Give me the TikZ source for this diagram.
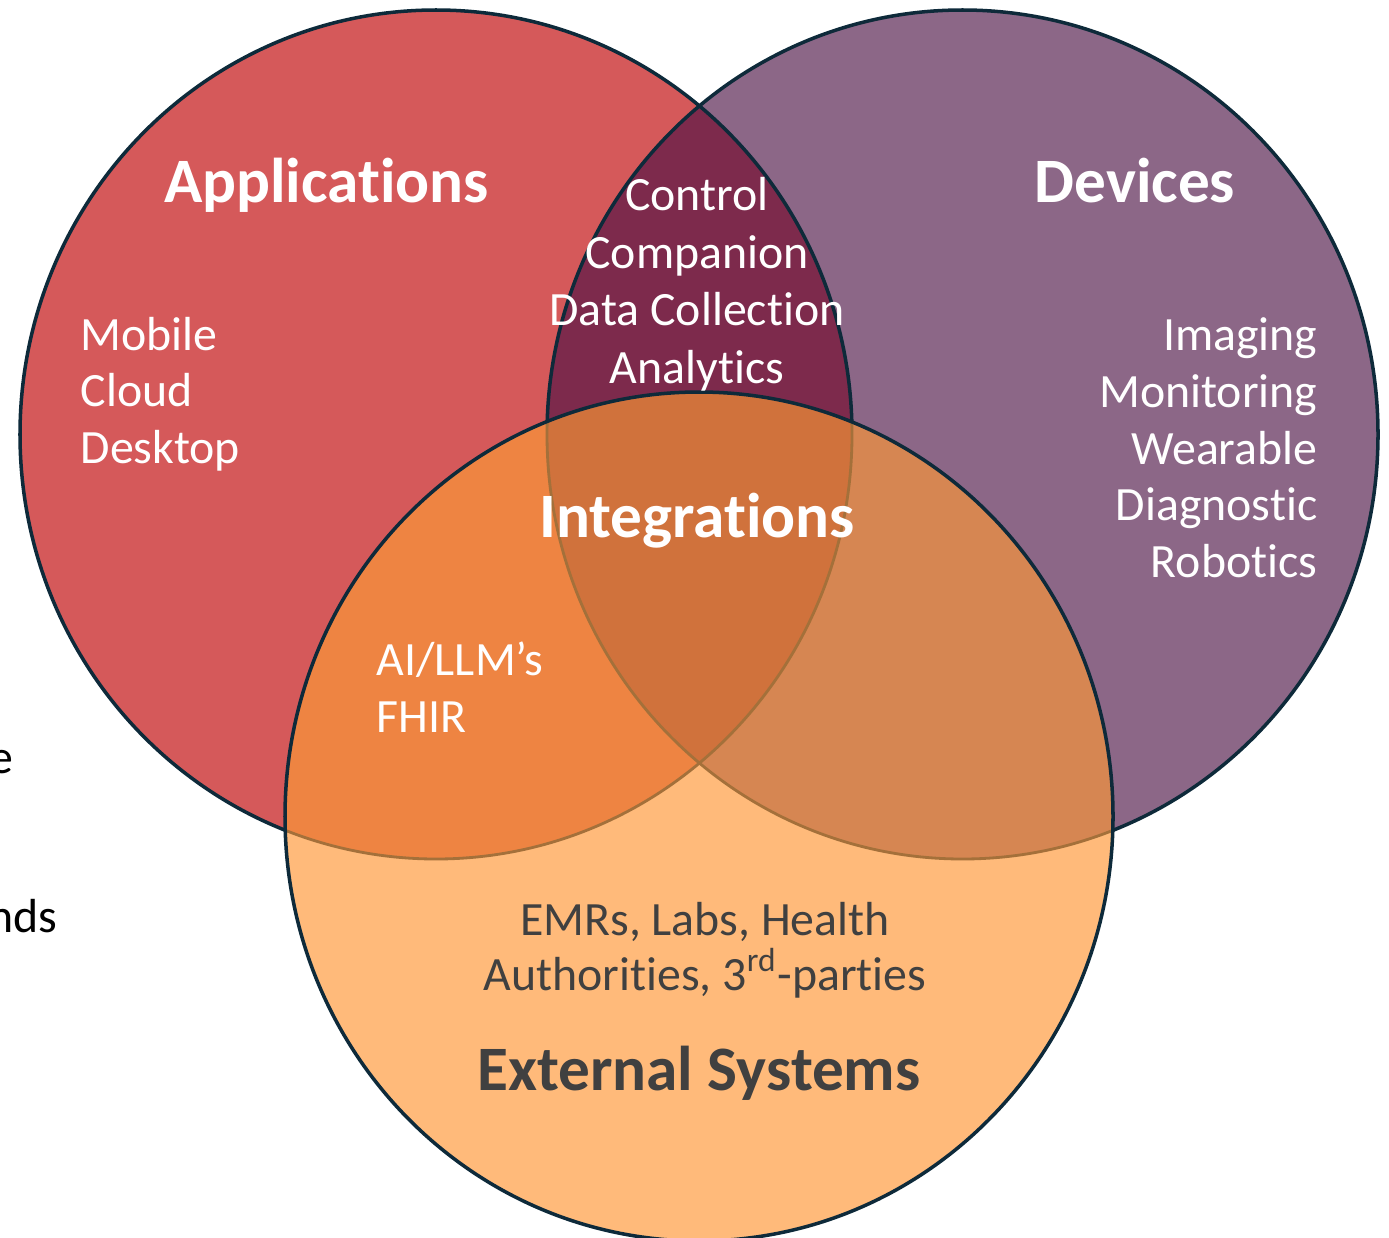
\documentclass[tikz,border=0pt]{standalone}
\usepackage{fontspec}
\setmainfont{Carlito}[Ligatures={TeX,NoCommon}]
\usepackage{xcolor}
\usepackage{tikz}
\usetikzlibrary{positioning}

\definecolor{appred}{HTML}{D5595A}
\definecolor{devpurple}{HTML}{8C6787}
\definecolor{appdev}{HTML}{7D2A4C}
\definecolor{extorange}{HTML}{FFBA7A}
\definecolor{appext}{HTML}{EE8442}
\definecolor{devext}{HTML}{D68652}
\definecolor{allthree}{HTML}{D0723C}
\definecolor{rimnavy}{HTML}{0E2A3A}
\definecolor{rimbrown}{HTML}{A4703A}
\definecolor{extgray}{HTML}{404040}

\tikzset{
	appring/.style={x radius=4.16, y radius=4.245},
	devring/.style={x radius=4.155, y radius=4.245},
	extring/.style={x radius=4.14, y radius=4.245},
	rim/.style={draw=rimnavy, line width=1pt},
	rimdim/.style={draw=rimbrown, line width=0.8pt},
	headtxt/.style={inner sep=0pt, text=white, font=\fontsize{18}{21}\selectfont\bfseries},
	itemtxt/.style={inner sep=0pt, text=white, font=\fontsize{13.6}{16}\selectfont},
}

\begin{document}
\begin{tikzpicture}
	\useasboundingbox (0,0) rectangle (13.89,12.37);
	\clip (0,0) rectangle (13.89,12.37);
	\coordinate (app) at (4.36,8.025);
	\coordinate (dev) at (9.625,8.025);
	\coordinate (ext) at (6.99,4.205);

	\fill[appred] (app) ellipse [appring];
	\fill[devpurple] (dev) ellipse [devring];
	\begin{scope}
		\clip (app) ellipse [appring];
		\fill[appdev] (dev) ellipse [devring];
	\end{scope}
	\draw[rim] (app) ellipse [appring];
	\draw[rim] (dev) ellipse [devring];

	\fill[extorange] (ext) ellipse [extring];
	\begin{scope}
		\clip (ext) ellipse [extring];
		\fill[appext] (app) ellipse [appring];
		\fill[devext] (dev) ellipse [devring];
		\clip (app) ellipse [appring];
		\fill[allthree] (dev) ellipse [devring];
	\end{scope}
	\begin{scope}
		\clip (ext) ellipse [extring];
		\draw[rimdim] (app) ellipse [appring];
		\draw[rimdim] (dev) ellipse [devring];
	\end{scope}
	\draw[rim] (ext) ellipse [extring];

	\node[headtxt, anchor=base] (applications) at (3.265,10.35) {Applications};
	\node[headtxt, anchor=base] (devices) at (11.35,10.35) {Devices};
	\node[headtxt, anchor=base] (integrations) at (6.97,7.00) {Integrations};
	\node[headtxt, anchor=base, text=extgray] (external) at (6.99,1.47) {External Systems};

	\node[itemtxt, anchor=base west] (mobile) at (0.80,8.87) {Mobile};
	\node[itemtxt, anchor=base west] (cloud) at (0.80,8.31) {Cloud};
	\node[itemtxt, anchor=base west] (desktop) at (0.80,7.74) {Desktop};

	\node[itemtxt, anchor=base east] (imaging) at (13.18,8.87) {Imaging};
	\node[itemtxt, anchor=base east] (monitoring) at (13.18,8.30) {Monitoring};
	\node[itemtxt, anchor=base east] (wearable) at (13.18,7.73) {Wearable};
	\node[itemtxt, anchor=base east] (diagnostic) at (13.18,7.17) {Diagnostic};
	\node[itemtxt, anchor=base east] (robotics) at (13.18,6.60) {Robotics};

	\node[itemtxt, anchor=base] (control) at (6.97,10.27) {Control};
	\node[itemtxt, anchor=base] (companion) at (6.97,9.69) {Companion};
	\node[itemtxt, anchor=base] (datacollection) at (6.97,9.12) {Data Collection};
	\node[itemtxt, anchor=base] (analytics) at (6.97,8.54) {Analytics};

	\node[itemtxt, anchor=base west] (aillm) at (3.76,5.62) {AI/LLM’s};
	\node[itemtxt, anchor=base west] (fhir) at (3.76,5.05) {FHIR};

	\node[itemtxt, anchor=base, text=extgray] (emrs) at (7.05,3.02) {EMRs, Labs, Health};
	\node[itemtxt, anchor=base, text=extgray] (authorities) at (7.05,2.47) {Authorities, 3\textsuperscript{rd}-parties};

	\node[itemtxt, anchor=base east, text=black] (edge1) at (0.14,4.64) {e};
	\node[itemtxt, anchor=base east, text=black] (edge2) at (0.58,3.05) {nds};
\end{tikzpicture}
\end{document}
